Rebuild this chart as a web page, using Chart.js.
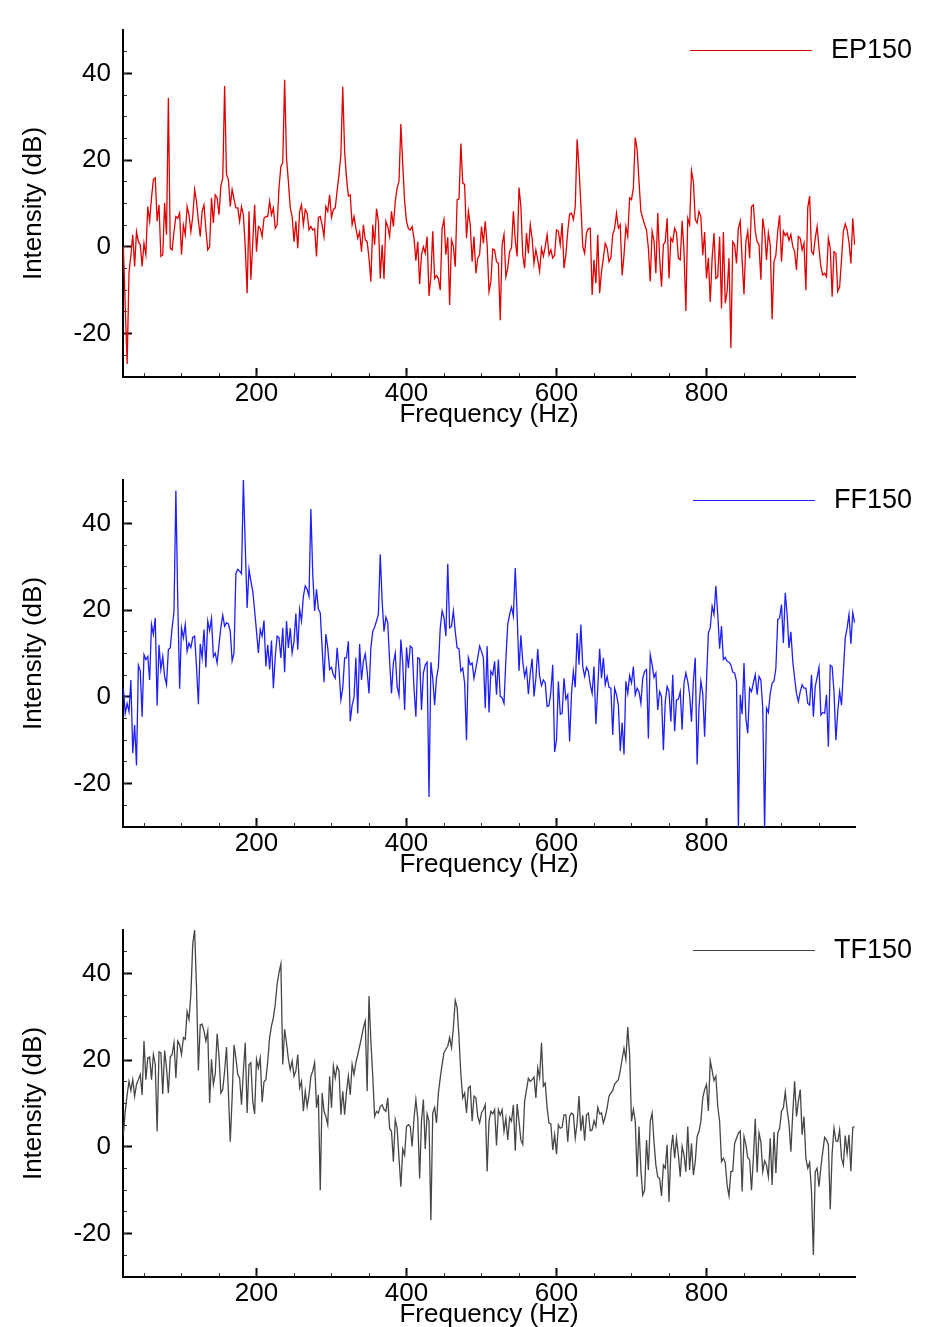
<!DOCTYPE html>
<html>
<head>
<meta charset="utf-8">
<title>EP150 / FF150 / TF150 spectra</title>
<script src="https://cdn.jsdelivr.net/npm/chart.js@4.4.1/dist/chart.umd.min.js"></script>
<style>
  html, body { margin: 0; padding: 0; background: #fff; }
  #page { position: relative; width: 945px; height: 1327px; overflow: hidden; background: #fff; }
  #page canvas { position: absolute; left: 0; }
</style>
</head>
<body>
<div id="page">
  <canvas id="panel0" width="945" height="450" style="top:0"></canvas>
  <canvas id="panel1" width="945" height="450" style="top:450px"></canvas>
  <canvas id="panel2" width="945" height="450" style="top:900px"></canvas>
</div>
<script>
// frequency bins (Hz): first bin and bin width
const FREQ_START = 22.5;
const FREQ_STEP = 2.5;

const X_MIN = 22;
const X_MAX = 998;
const Y_MIN = -30;
const Y_MAX = 50;

const X_MAJOR = [200, 400, 600, 800];
const X_MINOR = [50, 100, 150, 200, 250, 300, 350, 400, 450, 500, 550, 600, 650, 700, 750, 800, 850, 900, 950];
const Y_MAJOR = [-20, 0, 20, 40];
const Y_MINOR = [-25, -20, -15, -10, -5, 0, 5, 10, 15, 20, 25, 30, 35, 40, 45];

const SERIES_LABELS = ['EP150', 'FF150', 'TF150'];
const SERIES_COLORS = ['rgb(225, 0, 0)', 'rgb(30, 30, 255)', 'rgb(70, 70, 70)'];

// intensity (dB) per bin
const EP150 = [
  0, -14, -27, -6, -2, 2.8, -4.5, 3.5, 1.2, 0.5,
  -4.5, 0.8, -1.8, 9.3, 5.9, 11.3, 15.5, 15.9, 5.9, 9.7,
  -2.2, -1.8, 10.1, 2.8, 34.4, -0.3, -0.7, 3.5, 7, 6.6,
  7.8, -1.8, 5, 2.8, 9.3, 7.4, 3.5, 7, 13.2, 10.5,
  6, 2.4, 8.2, 9.7, 4, -0.7, 0, 11.3, 5.5, 12,
  11.3, 7.4, 14, 15.9, 37.1, 16.7, 15.5, 9.3, 13.2, 11,
  9, 9, 5.9, 9.3, 7.4, 0, -10.7, 8.2, -7.6, 1,
  9.7, -1.1, 4.7, 4.3, 2.4, 6.6, 7, 7, 10.5, 7.4,
  9, 4.3, 5.1, 13.6, 18.6, 19.4, 38.5, 20.5, 15.1, 9,
  7, 1.2, 5.9, -0.3, 8.2,
  9.7, 5.1, 8.6, 7.8, 3.9, 4.7, 3.9, 4.2, -2.2, 6.8,
  7, 5, 2.4, 9.3, 8.2, 12, 6.8, 8.6, 9, 13,
  16.7, 21.3, 36.9,
  22, 15.9, 11.7, 12, 5.1, 7, 4.3, 2, 3.4, -1.1,
  5.1, 1.6, 1.2, -2.6, -8, 5.1, 0.5, 8.8, 5.9, -7.3,
  0.5, -7.4, 5.9, 4.7, 2.4, 8.2, 4.7, 10.5, 13.6, 15.1,
  28.3,
  19, 10.5, 5.9, 4.2, 3.9, 4.7, 2, -3.2, 1.2, -8.6,
  -1.8, 0, -1.5, 2.4, -11.3, -6.9, 3.6, -7.3, -6.6, -7.3,
  -10, 4.3, 6.3, -1.8, 2.2, -13.4, 1.6, 0.1, -4.6, 10.9,
  11.1, 23.8, 14.7, 14.4, 2, 8.2, 5.1, -3.4, 2.4, -6.1,
  -2.6, -1.8, 4.7, 0.8, 5.9,
  0.5, -10.3, -8, -0.5, -0.7, -3.4, -3.8, -16.9, 0.5, 2.9,
  -6.9, -4.9, -1.1, -0.2, 8.2, 1.6, -2.2, 13.7, 9.3, -1.9,
  -4.9, 3.2, -1.5, 5.1, 2, -3.8, -0.7, -3, -5.7, -0.3,
  -2.2, 0.1, 2.8, -1.9, -0.7, -2.6, -1.9, 3.9, 3.6,
  0.5, 5.5, -4.9, -1.9, 3.6, 7.6, 7.8, 6.3, 9.3, 24.8,
  18.2, 9.7, 0.1, -1.5, 3.2, 4.2, 4.3, -11.1, -3, -8.4,
  2.8, -10.7, -5.7, -2.6, 0.8, -0.3, -3.4, -2.6, 2.9,
  4.2, 7.8, 4.3, 5.1, -6.6, -1.9, 4.7, 2.4, 11.3, 10.9,
  13.6, 25.2, 22.5, 15.1, 8.2, 6.6, 5.1, 3.9, -0.3, -8,
  3.6, 1.4, -6.1, 7.8, -2.6, -9.2, 0.5, 1.2, 6.6,
  -7.3, 2, 1.2, 4.3, 3.2, -2.6, -3, 6, -1.1, -14.8,
  6.6, 5.1, 17.5, 15.1, 6.3, 5.5, 8.2, 7, -1.9, 3.4,
  -7.3, -2.5, -12.7, -2.6, 3.2, -7.3, -6.9, 2.4, -14.2, 3.4,
  -13, -10.3, -2.6, -23.3, 1.2, 0.5, -3.8, 4.3, 6, -3,
  -11, 1.2, 3.6, -2.6, 9.3, 9.7, 3.6, 1.2, 0.5, -7.6,
  6.6, 3.6, -3, 3.2, 0.5, -16.7, -3.4, -1.9, 3.6, 7.3,
  -3.4, 3.6, 2.6, 3.2, 1.5, 2.9, 0.1, -1.1, -5.3, 2.4,
  2, -0.7, 0.8, -10, 9, 11.7, -1.1, -1.7, 2, 4.7,
  -0.3, -4.6, -6.5, -6.1, -6.9, 2, -0.3, -11.5, -1.1, -1.5,
  -10.3, -9.2, -3, 3.6, 5.3, 3.9, 1, -3.8, 6.6, 0.5
];

const FF150 = [
  2, -3.8, -1.5, -3.4, 3.9, -13, -6.5, -15.8, 7.3, 6,
  -4.6, 9.7, 8.6, 9.3, 3.9, 16.7, 14.4, 18.2, -2, 12,
  6.3, 9.3, 4.7, 2.8, 10.9, 11.3, 15.9, 19.8, 47.6,
  22.1, 1.9, 15.9, 13.6, 16.7, 10.5, 12.4, 11.4, 13.7, 14,
  7, -1.7, 12.2, 9, 15.5, 6.8, 17.5, 15.3, 18.1, 9.3,
  10.1, 7.8, 12, 16.1, 18.8, 16.3, 17.1, 16.8, 15.1, 8.3,
  10.1, 28.4, 29.4, 29, 28.4, 50,
  34.8, 20.5, 29.4, 26.7, 24.4, 19.9, 15.1, 10.1, 15.5, 14,
  17.6, 7, 12, 6.3, 13, 2, 9.3, 14, 13.6, 9,
  15.9, 5.7, 17.5, 11.3, 15.8, 10.1, 12.8, 19.2, 10.9,
  20.2, 17.5, 23.2, 25.6, 24.8, 23.2, 43.3,
  28.3, 19.8, 24.8, 20.2, 19.4, 11.3, 3.4, 14.5, 11.3, 6.3,
  6.8, 5.1, 4.3, 11.3, 6.3, -0.7, 2, 9, 9, 12.8,
  -5.6, -1.9, -0.2, 9, -3.8, 12.2, 3.9, 8.2, 9.9, 5.9,
  0.8, 11.3, 15.1, 16.1, 17.5, 19, 32.9,
  22.1, 15.1, 18.4, 17.1, 8.2, 0.8, 7.8, 10.1, 2.4, 0.3,
  13.2, 7.8, -3, 11.4, 6.6, 11.7, 11.3, 2, -4.6, 9,
  8.8, -3, 5.5, 7.4, 8, -23.1, 8, 4.3, -1.9, 4.3,
  6.8, 15.9, 19.8, 18.2, 14, 30.7,
  15.9, 16.3, 19.8, 15.1, 11.3, 11.1, 5.9, 6.6, 3.2, -10,
  9, 7.4, 7.8, 4.3, 6.6, 9, 11.7, 10.5, 9, -2.6,
  11.7, -3.6, 5.9, 5.1, 8.2, 0.5, 8.6, 0.1, -0.2, -1.5,
  8.6, 16.7, 19, 20.7, 18.6, 29.7,
  19, 6, 14.2, 8.2, 4.7, 6.5, 0.6, 5.5, 8.8, 0.1,
  4.3, 11, 4.7, 2.6, 3.9, 3.2, -2.2, -2, 1.2, 7.4,
  -12.7, -10, 3.6, -4, -3.8, 4.3, -0.5, 0.5, -10.3, 0.8,
  5.9, 2.2, 14.7, 7.4, 16.7, 7, 4.7, 6.8, 5.9, 2.8,
  0.8, 7, -6.3, 2, 11.1, 4.3, 9, 2.8, 4.7, 2.2,
  2, -8.8, 2, 0.5, -1.9, -12.5, -5.9, -13.3, 3.6, 0.8,
  4.9, 3.2, 7, 0.5, 2, 1.2, -1.5, 4.3, 5.9, 6.3,
  -9.6, 9.7, 7.4, 4.5, 5.5, -3, 1.2, 0.1, -12.3, -1.1,
  2.4, 1.2,
  -5.7, 5.1, -7.9, -0.7, -0.5, 1.2, -7.6, 3.2, 5.5, 3.6,
  0.5, -5.7, 3.6, 9, -15.6, -2.6, 3.6, 0.8, -9.2, 3.6,
  14.7, 15.9, 20.9, 19, 25.6, 19, 11.1, 16.3, 8.6, 9.1,
  8.2, 8, 7.4, 5.7, 5.5, 3.6, -30.5, 0.5, -4, 7.8,
  -4.9, -8.4, 2, 1.2, 3.2, 5.1, 0.5, 4.7, 3.9, -2.6,
  -30.5, -2.6, -3.6, 0.8, 3.2, 3.6, 6.6, 17.8, 18.2, 21.3,
  12.4, 24, 19, 11.3, 15, 8.2, 4.3, 0.8, -1.1, 1.2,
  2.8, 2, 2, -1.5, -1.9, 5.1, -4.6, 2.4, 4.5, 6.8,
  -4.2, -3.6, -3.8, 0.5, -11.5, 7.3, 7, 1.2, -10, -3.4,
  1.2, -1.9, 5.9, 13.6, 15.9, 19, 12.2, 19.4, 17.1
];

const TF150 = [
  2.8, 8.2, 12, 15.1, 13, 15.5, 11.7, 14.4, 15.5, 16.7,
  12, 24.4, 15.5, 20.5, 20.7, 15.5, 21.3, 19, 3.6, 21.9,
  21.7, 12.2, 22.2, 18.2, 12.4, 20.7, 21.3, 24, 15.9, 24.4,
  23.6, 21.3, 25.2, 24.8, 31.2, 29.4, 35.2, 46.8, 50,
  36.8, 17.6, 28.1, 28.3, 26.7, 24.4, 26.7, 10.1, 20.2, 14.4,
  16.8, 26.1, 20.9, 12.4, 13.2, 17.5, 23, 12.8, 1.2, 11.3,
  23.5, 20.5, 16.7, 15.9, 9.7, 17.5, 24, 7.8, 19, 19.4,
  10.5, 7.6, 20.2, 18.2, 20.5, 10.3, 15, 15.5, 19.8, 25.2,
  27.9, 29.8, 32.9, 37.5, 40.2, 42.2,
  19, 27.1, 24, 20.2, 17.8, 19.8, 16.3, 17.5, 21.3, 13.6,
  15.1, 8.2, 12.8, 9.3, 12, 16.3, 17.5, 19.4, 9, 12,
  -10, 12.4, 8.2, 7, 5.1, 16.3, 9, 18.6, 15.9, 18.6,
  17.5, 7.4, 12.8, 7.4, 12.8, 16.3, 12, 19, 16.7, 19.4,
  21.3, 23.2, 25.2, 27.5, 29, 12.8, 34.8,
  24.4, 16.3, 7, 8.2, 7.8, 9.3, 9.7, 8.6, 8.2, 11.3,
  4.2, 3.6, -3.4, 6.3, 4.3, -2.6, -9.2, -0.5, -1.9, 4.7,
  5.1, 4.7, 0.1, 6.6, 10.9, 6.6, -7.3, 5.9, 10.9, -0.5,
  7.6, 5.9, -16.9, 7.8, 9.1, 5.5, 12.4, 15.9, 19, 21.7,
  22.5, 23.2, 25.2, 22.9, 27.5, 33.8,
  32.1, 25.2, 16.7, 11.3, 12.4, 7.8, 13.6, 14, 5.9, 11.7,
  11.3, 7, 5.5, 7.8, 8.6, 9.7,
  -5.7, 5.9, 8.2, 7.6, 8.6, 0.3, 8.6, 7.3, 8.6, 3.6,
  6.6, 1.6, 6.8, 5.9, 9.7, -0.9, 9.9, 5.9, 1.6, 0.6,
  10.5, 13.2, 15.8, 15.1, 15.5, 16.1, 11.3, 18.2, 15.9, 24,
  14, 14.7, 9, 5.5, 5.3, -0.7, 2.8, -1.7, 5.1, 4.3,
  4.5, 7.4, 7.4, 1.2, 7, 7.8, 7.4, 2, 5.5, 11.7,
  3.6, 7.3, 1.4, 7.4, 7.8, 3.7, 3.9, 6, 4.7, 9.1,
  7.6, 7.8, 5.5, 7, 9, 11.7, 12.4, 13, 14.5, 15,
  15.5, 17.5, 20.2, 22.7, 20.2, 27.6,
  21.2, 5.9, 8.6, 6, -6.9, 4.7, -5.3, -11.1, -10, 1.6,
  -5.3, 5.9, 7.8, 1.2, -4.2, -6.9, -7.3, -11.3, -4.2, -4.9,
  0.5, -12.7,
  -1.1, 2.8, -2.6, 2, -1.9, -6.9, 0.1, -1.9, -5.7, 4.7,
  -5.3, 0.8, -6.5, -3.4, 2.4, 3.6, 5.9, 11.3, 13.2, 14.4,
  8.3, 19.9, 17.6, 15.3, 16.3, 9.3, 5.9, -3.4, -2.6, -3.6,
  -8.8, -11.3, -5.7, -5.6, 0.8, 2, 3.2, 3.7, -10.3, 2.4,
  0.5, -2.5, -3, -10, -2.6, 6.5, -5.9, 3.2, 1.2, -5.7,
  -3.2, -4.2, -6.9, 2, -8.8, 3.4, -6.1, 3.2, 4.3, 8.2,
  9, 12.7, 8.6, 5.3, -1.1, 7.8, 15.1, 7, 10.5, 13.2,
  2.8, 7, -2.6, -4.9, -3.6, -10.3, -24.9,
  -5.7, -4.9, -9.2, -4.6, -1.1, 2.2, 1.6, 0.5, -14.4, -1.5,
  4.3, 1.4, 1.2, 3.9, -2.6, -4.2, 2.6, -1.5, 2.8, -5.6,
  4.5, 4.7
];

const FONT = '"Liberation Sans", Arial, Helvetica, sans-serif';
Chart.defaults.font.family = FONT;
Chart.defaults.color = '#000';

// legend drawn at the upper right corner, partly outside the plot area
const cornerLegend = {
  id: 'cornerLegend',
  afterDraw(chart) {
    const ds = chart.data.datasets[0];
    const { ctx, chartArea } = chart;
    const right = chartArea.right + 57;
    const y = chartArea.top + 21;
    ctx.save();
    ctx.font = '27px ' + FONT;
    ctx.fillStyle = '#000';
    ctx.textAlign = 'right';
    ctx.textBaseline = 'middle';
    ctx.fillText(ds.label, right, y);
    const lineEnd = right - ctx.measureText(ds.label).width - 19;
    ctx.strokeStyle = ds.borderColor;
    ctx.lineWidth = 1;
    ctx.beginPath();
    ctx.moveTo(lineEnd - 122, y - 0.5);
    ctx.lineTo(lineEnd, y - 0.5);
    ctx.stroke();
    ctx.restore();
  }
};

function setTicks(values) {
  return (scale) => {
    scale.ticks = values.map((v) => ({ value: v }));
  };
}

function fixedSize(width, height) {
  return (scale) => {
    if (width !== null) scale.width = width;
    if (height !== null) scale.height = height;
    scale.paddingTop = 0;
    scale.paddingBottom = 0;
    scale.paddingLeft = 0;
    scale.paddingRight = 0;
  };
}

function makePanel(canvasId, label, color, values) {
  const points = values.map((y, i) => ({ x: FREQ_START + i * FREQ_STEP, y: y }));
  const tickFont = { size: 26, lineHeight: 1 };

  return new Chart(document.getElementById(canvasId), {
    type: 'line',
    data: {
      datasets: [{
        label: label,
        data: points,
        borderColor: color,
        borderWidth: 1.3,
        pointRadius: 0,
        tension: 0,
        fill: false
      }]
    },
    options: {
      responsive: false,
      animation: false,
      devicePixelRatio: 1,
      events: [],
      layout: { padding: { top: 30, right: 90, bottom: 22, left: 0 } },
      plugins: { legend: { display: false }, tooltip: { enabled: false } },
      scales: {
        x: {
          type: 'linear', position: 'bottom', weight: 1,
          min: X_MIN, max: X_MAX,
          afterBuildTicks: setTicks(X_MAJOR),
          afterFit: fixedSize(null, 51),
          ticks: { padding: 13, font: tickFont, maxRotation: 0, autoSkip: false, callback: (v) => String(v) },
          grid: { drawOnChartArea: false, tickLength: -9, tickWidth: 2, tickColor: '#000' },
          border: { display: true, color: '#000', width: 2 },
          title: { display: true, text: 'Frequency (Hz)', font: { size: 26, lineHeight: 1 }, padding: 0 }
        },
        xMinor: {
          type: 'linear', position: 'bottom', weight: 0,
          min: X_MIN, max: X_MAX,
          afterBuildTicks: setTicks(X_MINOR),
          afterFit: fixedSize(null, 0),
          ticks: { display: false },
          grid: { drawOnChartArea: false, tickLength: -4, tickWidth: 1, tickColor: '#333' },
          border: { display: false }
        },
        y: {
          type: 'linear', position: 'left', weight: 1,
          min: Y_MIN, max: Y_MAX,
          afterBuildTicks: setTicks(Y_MAJOR),
          afterFit: fixedSize(123, null),
          ticks: { padding: 21, font: tickFont, autoSkip: false, callback: (v) => String(v) },
          grid: { drawOnChartArea: false, tickLength: -9, tickWidth: 2, tickColor: '#000' },
          border: { display: true, color: '#000', width: 2 },
          title: { display: true, text: 'Intensity (dB)', font: { size: 26, lineHeight: 1 }, padding: { top: 21, bottom: 0 } }
        },
        yMinor: {
          type: 'linear', position: 'left', weight: 0,
          min: Y_MIN, max: Y_MAX,
          afterBuildTicks: setTicks(Y_MINOR),
          afterFit: fixedSize(0, null),
          ticks: { display: false },
          grid: { drawOnChartArea: false, tickLength: -4, tickWidth: 1, tickColor: '#333' },
          border: { display: false }
        }
      }
    },
    plugins: [cornerLegend]
  });
}

makePanel('panel0', SERIES_LABELS[0], SERIES_COLORS[0], EP150);
makePanel('panel1', SERIES_LABELS[1], SERIES_COLORS[1], FF150);
makePanel('panel2', SERIES_LABELS[2], SERIES_COLORS[2], TF150);
</script>
</body>
</html>
